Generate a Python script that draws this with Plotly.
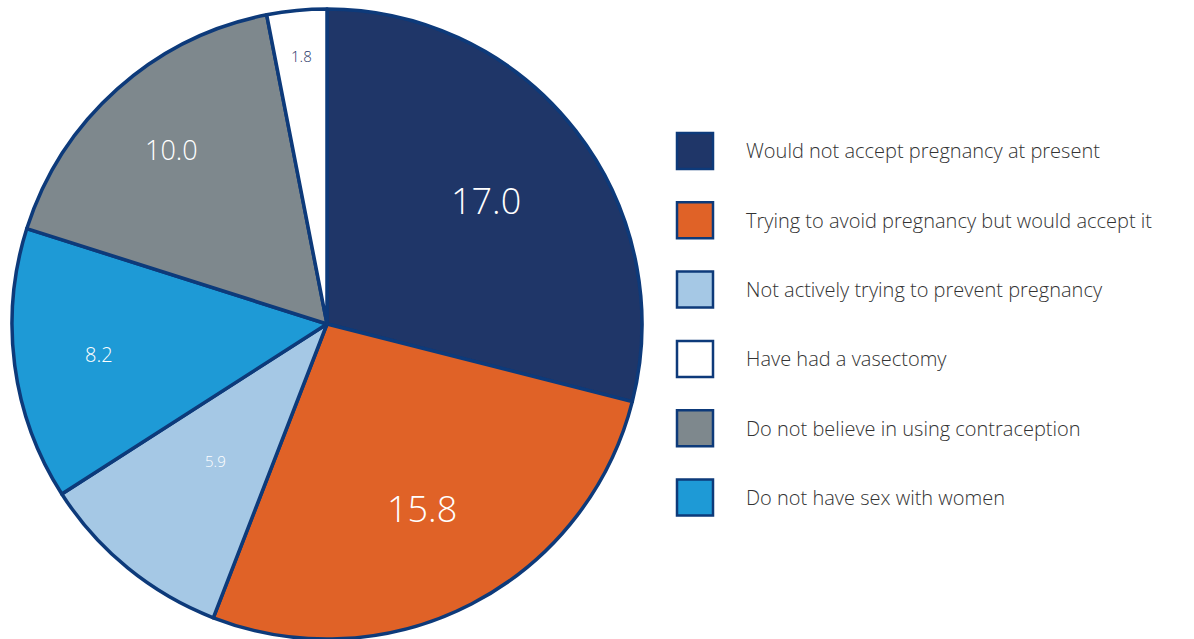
import math
import plotly.graph_objects as go

# Reasons for not using contraception (%), in slice order clockwise from 12 o'clock
slice_labels = [
    "Would not accept pregnancy at present",
    "Trying to avoid pregnancy but would accept it",
    "Not actively trying to prevent pregnancy",
    "Do not have sex with women",
    "Do not believe in using contraception",
    "Have had a vasectomy",
]
slice_values = [17.0, 15.8, 5.9, 8.2, 10.0, 1.8]

# Legend order
legend_labels = [
    "Would not accept pregnancy at present",
    "Trying to avoid pregnancy but would accept it",
    "Not actively trying to prevent pregnancy",
    "Have had a vasectomy",
    "Do not believe in using contraception",
    "Do not have sex with women",
]

palette = {
    "Would not accept pregnancy at present": "#1f3668",
    "Trying to avoid pregnancy but would accept it": "#e06227",
    "Not actively trying to prevent pregnancy": "#a5c8e5",
    "Have had a vasectomy": "#ffffff",
    "Do not believe in using contraception": "#7e888d",
    "Do not have sex with women": "#1e9ad6",
}
outline = "#0d3a7a"

# Value label styling per slice: size, colour, distance from centre (fraction of radius)
label_sizes = [36, 36, 15, 20, 27, 15]
label_colors = ["white", "white", "white", "white", "white", "#1f3668"]
label_radius = [0.64, 0.66, 0.56, 0.73, 0.74, 0.855]

W, H = 1194, 639
FONT = "Open Sans"
TXT_W = 300

# Pie geometry in pixels
px0, px1 = 12, 642
py_top, py_bot = 9, 639
cx, cy = (px0 + px1) / 2, (py_top + py_bot) / 2
R = (px1 - px0) / 2

fig = go.Figure()
fig.add_trace(go.Pie(
    labels=slice_labels,
    values=slice_values,
    sort=False,
    direction="clockwise",
    rotation=0,
    marker=dict(colors=[palette[l] for l in slice_labels],
                line=dict(color=outline, width=3.5)),
    textinfo="none",
    showlegend=False,
    hoverinfo="label+value",
    domain=dict(x=[px0 / W, px1 / W], y=[1 - py_bot / H, 1 - py_top / H]),
))

# Value labels placed at each slice's mid-angle
total = sum(slice_values)
cum = 0.0
for v, size, col, rf in zip(slice_values, label_sizes, label_colors, label_radius):
    mid = (cum + v / 2) / total * 2 * math.pi
    cum += v
    x = cx + rf * R * math.sin(mid)
    y = cy - rf * R * math.cos(mid)
    fig.add_annotation(
        x=x / W, y=1 - y / H, xref="paper", yref="paper",
        text=f"{v:.1f}", showarrow=False, xanchor="center", yanchor="middle",
        font=dict(family=FONT, size=size, color=col, weight=TXT_W),
    )

# Legend: square swatches with text
first_y, step = 151, 69.3
sw = 36
for i, name in enumerate(legend_labels):
    ly = first_y + i * step
    fig.add_shape(
        type="rect", xref="paper", yref="paper",
        x0=677 / W, x1=(677 + sw) / W,
        y0=1 - (ly - sw / 2) / H, y1=1 - (ly + sw / 2) / H,
        fillcolor=palette[name], line=dict(color=outline, width=2.5),
    )
    fig.add_annotation(
        x=744 / W, y=1 - ly / H, xref="paper", yref="paper",
        text=name, showarrow=False, xanchor="left", yanchor="middle",
        font=dict(family=FONT, size=20, color="#333333", weight=TXT_W),
    )

fig.update_layout(
    width=W, height=H,
    margin=dict(l=0, r=0, t=0, b=0),
    paper_bgcolor="white", plot_bgcolor="white",
)

fig.write_html("out.html")
